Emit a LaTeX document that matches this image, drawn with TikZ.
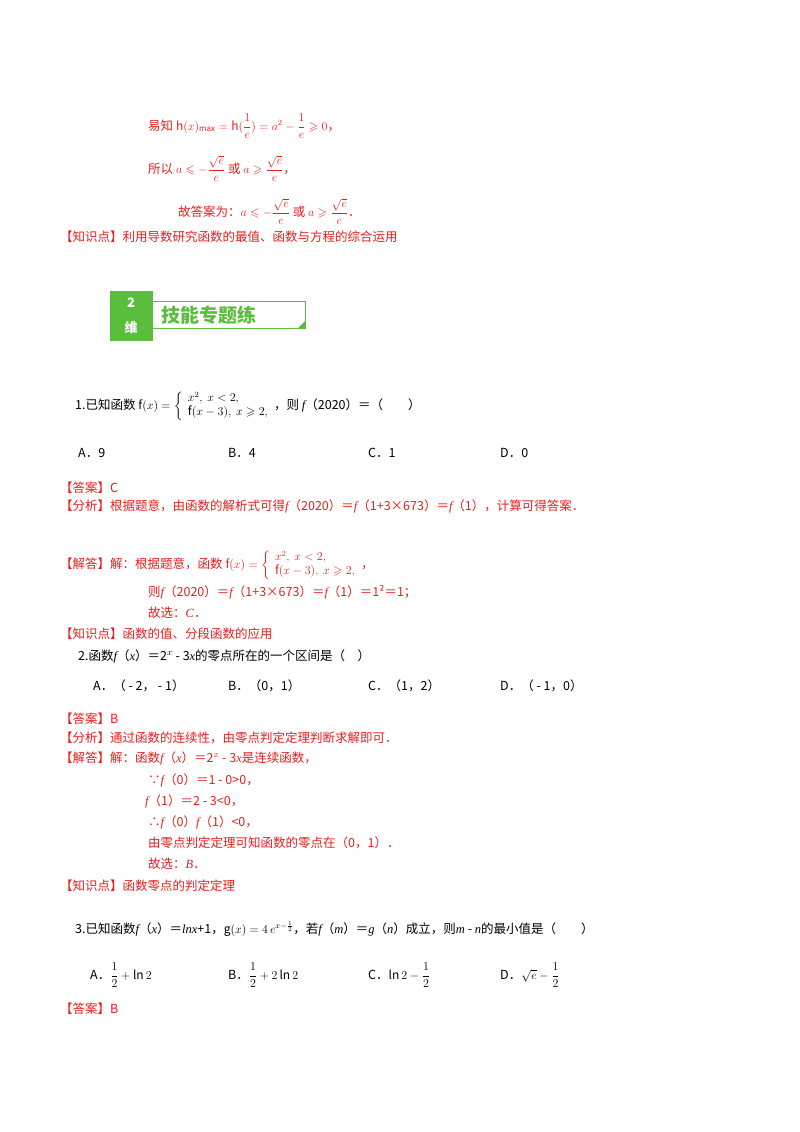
\documentclass[tikz,border=0pt]{standalone}
\usepackage{amssymb}
\usepackage{fontspec}
\setmainfont{Noto Sans CJK SC}
\newfontfamily\lser{Liberation Serif}
\definecolor{ared}{RGB}{232,30,30}
\definecolor{agreen}{RGB}{90,190,60}
\tikzset{t/.style={anchor=base west,inner sep=0pt,font=\fontsize{12.5}{15}\selectfont},
r/.style={t,text=ared}}
\newcommand{\fr}[2]{{\displaystyle\frac{#1}{#2}}}
\begin{document}
\begin{tikzpicture}[x=1pt,y=-1pt]
\useasboundingbox (0,0) rectangle (800,1132);
\node[r] (l1) at (148,130) {易知 {\large$\mathrm{h}(x)_{\max}=\mathrm{h}(\fr{1}{e})=a^2-\fr{1}{e}\geqslant0$}，};
\node[r] (l2) at (148,173) {所以 {\large$a\leqslant-\fr{\sqrt e}{e}$} 或 {\large$a\geqslant\fr{\sqrt e}{e}$}，};
\node[r] (l3) at (178,216) {故答案为：{\large$a\leqslant-\fr{\sqrt e}{e}$} 或 {\large$a\geqslant\fr{\sqrt e}{e}$}．};
\node[r] (l4) at (60,241) {【知识点】利用导数研究函数的最值、函数与方程的综合运用};
% banner
\fill[agreen] (110,291) rectangle (153,341);
\node[font=\bfseries\itshape\fontsize{13}{13}\selectfont,text=white] (b2) at (131,303) {2};
\node[font=\bfseries\itshape\fontsize{13}{13}\selectfont,text=white] (b3) at (131,328) {维};
\draw[agreen,line width=1pt] (153,301) -- (305,301) -- (305,328) -- (153,328);
\fill[agreen] (298,328) -- (305,328) -- (305,321) -- cycle;
\node[font=\bfseries\fontsize{19}{19}\selectfont,text=agreen,anchor=west] (bt) at (158,315) {技能专题练};
% Q1
\node[t] (q1) at (75,409) {1.已知函数 {\large$\mathrm{f}(x)=\left\{\begin{array}{l}x^2,\ x<2,\\ \mathrm{f}(x-3),\ x\geqslant2,\end{array}\right.$}，则 {\lser\itshape f}（2020）＝（\qquad）};
\node[t] (q1a) at (78,457) {A．9};
\node[t] (q1b) at (228,457) {B．4};
\node[t] (q1c) at (368,457) {C．1};
\node[t] (q1d) at (500,457) {D．0};
\node[r] (a1) at (60,492) {【答案】C};
\node[r] (f1) at (60,510) {【分析】根据题意，由函数的解析式可得{\lser\itshape f}（2020）＝{\lser\itshape f}（1+3×673）＝{\lser\itshape f}（1），计算可得答案．};
\node[r] (s1) at (60,568) {【解答】解：根据题意，函数 {\large$\mathrm{f}(x)=\left\{\begin{array}{l}x^2,\ x<2,\\ \mathrm{f}(x-3),\ x\geqslant2,\end{array}\right.$}，};
\node[r] (s1b) at (148,596) {则{\lser\itshape f}（2020）＝{\lser\itshape f}（1+3×673）＝{\lser\itshape f}（1）＝1²＝1；};
\node[r] (s1c) at (148,617) {故选：{\lser\itshape C}．};
\node[r] (k1) at (60,638) {【知识点】函数的值、分段函数的应用};
% Q2
\node[t] (q2) at (78,660) {2.函数{\lser\itshape f}（{\lser\itshape x}）＝2$^x$ - 3{\lser\itshape x}的零点所在的一个区间是（\quad）};
\node[t] (q2a) at (93,690) {A．（ - 2， - 1）};
\node[t] (q2b) at (228,690) {B．（0，1）};
\node[t] (q2c) at (368,690) {C．（1，2）};
\node[t] (q2d) at (500,690) {D．（ - 1，0）};
\node[r] (a2) at (60,723) {【答案】B};
\node[r] (f2) at (60,742) {【分析】通过函数的连续性，由零点判定定理判断求解即可．};
\node[r] (s2) at (60,762) {【解答】解：函数{\lser\itshape f}（{\lser\itshape x}）＝2$^x$ - 3{\lser\itshape x}是连续函数，};
\node[r] (s2b) at (148,784) {∵{\lser\itshape f}（0）＝1 - 0>0，};
\node[r] (s2c) at (145,805) {{\lser\itshape f}（1）＝2 - 3<0，};
\node[r] (s2d) at (148,826) {∴{\lser\itshape f}（0）{\lser\itshape f}（1）<0，};
\node[r] (s2e) at (148,847) {由零点判定定理可知函数的零点在（0，1）．};
\node[r] (s2f) at (148,868) {故选：{\lser\itshape B}．};
\node[r] (k2) at (60,890) {【知识点】函数零点的判定定理};
% Q3
\node[t] (q3) at (75,933) {3.已知函数{\lser\itshape f}（{\lser\itshape x}）＝{\lser\itshape lnx}+1，{\large$\mathrm{g}(x)=4\,e^{x-\frac{1}{2}}$}，若{\lser\itshape f}（{\lser\itshape m}）＝{\lser\itshape g}（{\lser\itshape n}）成立，则{\lser\itshape m} - {\lser\itshape n}的最小值是（\qquad）};
\node[t] (q3a) at (90,979) {A．{\large$\fr12+\ln2$}};
\node[t] (q3b) at (228,979) {B．{\large$\fr12+2\ln2$}};
\node[t] (q3c) at (368,979) {C．{\large$\ln2-\fr12$}};
\node[t] (q3d) at (500,979) {D．{\large$\sqrt e-\fr12$}};
\node[r] (a3) at (60,1013) {【答案】B};
\end{tikzpicture}
\end{document}
